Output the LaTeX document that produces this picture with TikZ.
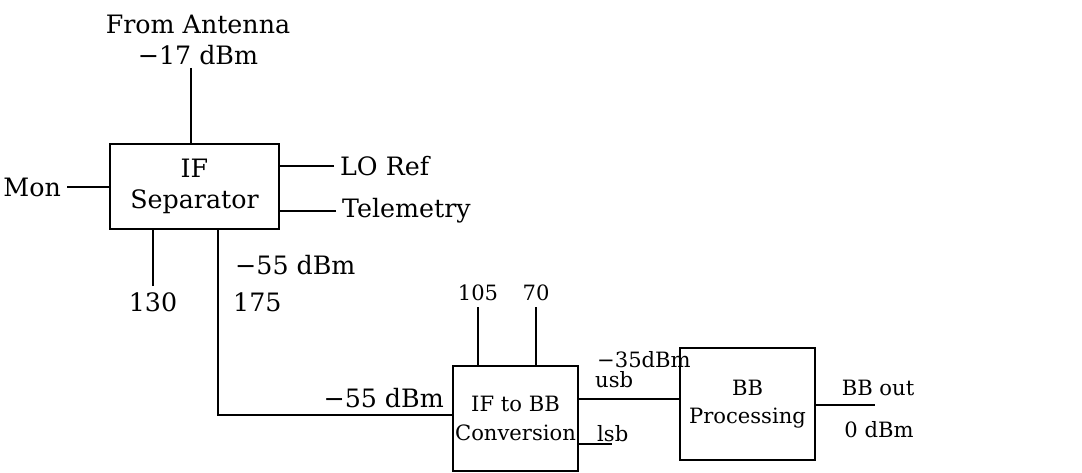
\documentclass[tikz,border=0pt]{standalone}
\usepackage{fontspec}
\setmainfont{DejaVu Serif}
\newcommand{\mn}{\symbol{"2212}}
\begin{document}
\begin{tikzpicture}[
                x=0.0125cm, y=-0.0125cm,
                every node/.style={
                        font=\fontsize{9}{11}\selectfont,
                        inner sep=2pt,
                        align=center
                    },
                small/.style={font=\fontsize{7.5}{10}\selectfont},
                block/.style={draw, line width=0.7pt, inner xsep=0pt},
                wire/.style={draw, line width=0.7pt}
            ]
            \useasboundingbox (0,0) rectangle (1082,473);

            % Blocks
            \node[block, minimum width=2.11cm, minimum height=1.06cm] (sep) at (194.5,186.5) {IF\\Separator};
            \node[block, small, minimum width=1.56cm, minimum height=1.31cm] (conv) at (515.5,418.5) {IF to BB\\Conversion};
            \node[block, small, minimum width=1.69cm, minimum height=1.4cm] (proc) at (747.5,404) {BB\\Processing};

            % Labels
            \node (ant) at (198,40) {From Antenna\\\mn17 dBm};
            \node[anchor=east] (mon) at (67,187) {Mon};
            \node[anchor=west] (loref) at (334,166) {LO Ref};
            \node[anchor=west] (telem) at (336,211) {Telemetry};
            \node (n130) at (153,302) {130};
            \node[anchor=west] (lvl1) at (229,265) {\mn55 dBm};
            \node[anchor=west] (n175) at (227,302) {175};
            \node[anchor=east] (lvl2) at (450,398) {\mn55 dBm};
            \node[small] (n105) at (478,293) {105};
            \node[small] (n70) at (536,293) {70};
            \node[small, anchor=west] (lvl3) at (591,360) {\mn35dBm};
            \node[small, anchor=west] (usb) at (589,380) {usb};
            \node[small, anchor=west] (lsb) at (591,434) {lsb};
            \node[small] (bbout) at (878,388) {BB out};
            \node[small] (lvl4) at (879,430) {0 dBm};

            \coordinate (bend) at (218,415);
            \coordinate (usbin) at (680,399);
            \coordinate (lsbend) at (612,444);
            \coordinate (outend) at (875,405);

            % Connectors
            \draw[wire] (191,68) coordinate (antfoot) -- (antfoot |- sep.north);
            \draw[wire] (mon.east) -- (mon -| sep.west);
            \draw[wire] (loref.west) -- (loref -| sep.east);
            \draw[wire] (telem.west) -- (telem -| sep.east);
            \draw[wire] (n130.north) -- (n130 |- sep.south);
            \draw[wire] (sep.south -| bend) -- (bend) -- (conv.west |- bend);
            \draw[wire] (n105.south) -- (n105 |- conv.north);
            \draw[wire] (n70.south) -- (n70 |- conv.north);
            \draw[wire] (usbin -| conv.east) -- (usbin);
            \draw[wire] (lsbend -| conv.east) -- (lsbend);
            \draw[wire] (outend -| proc.east) -- (outend);

        \end{tikzpicture}
\end{document}
